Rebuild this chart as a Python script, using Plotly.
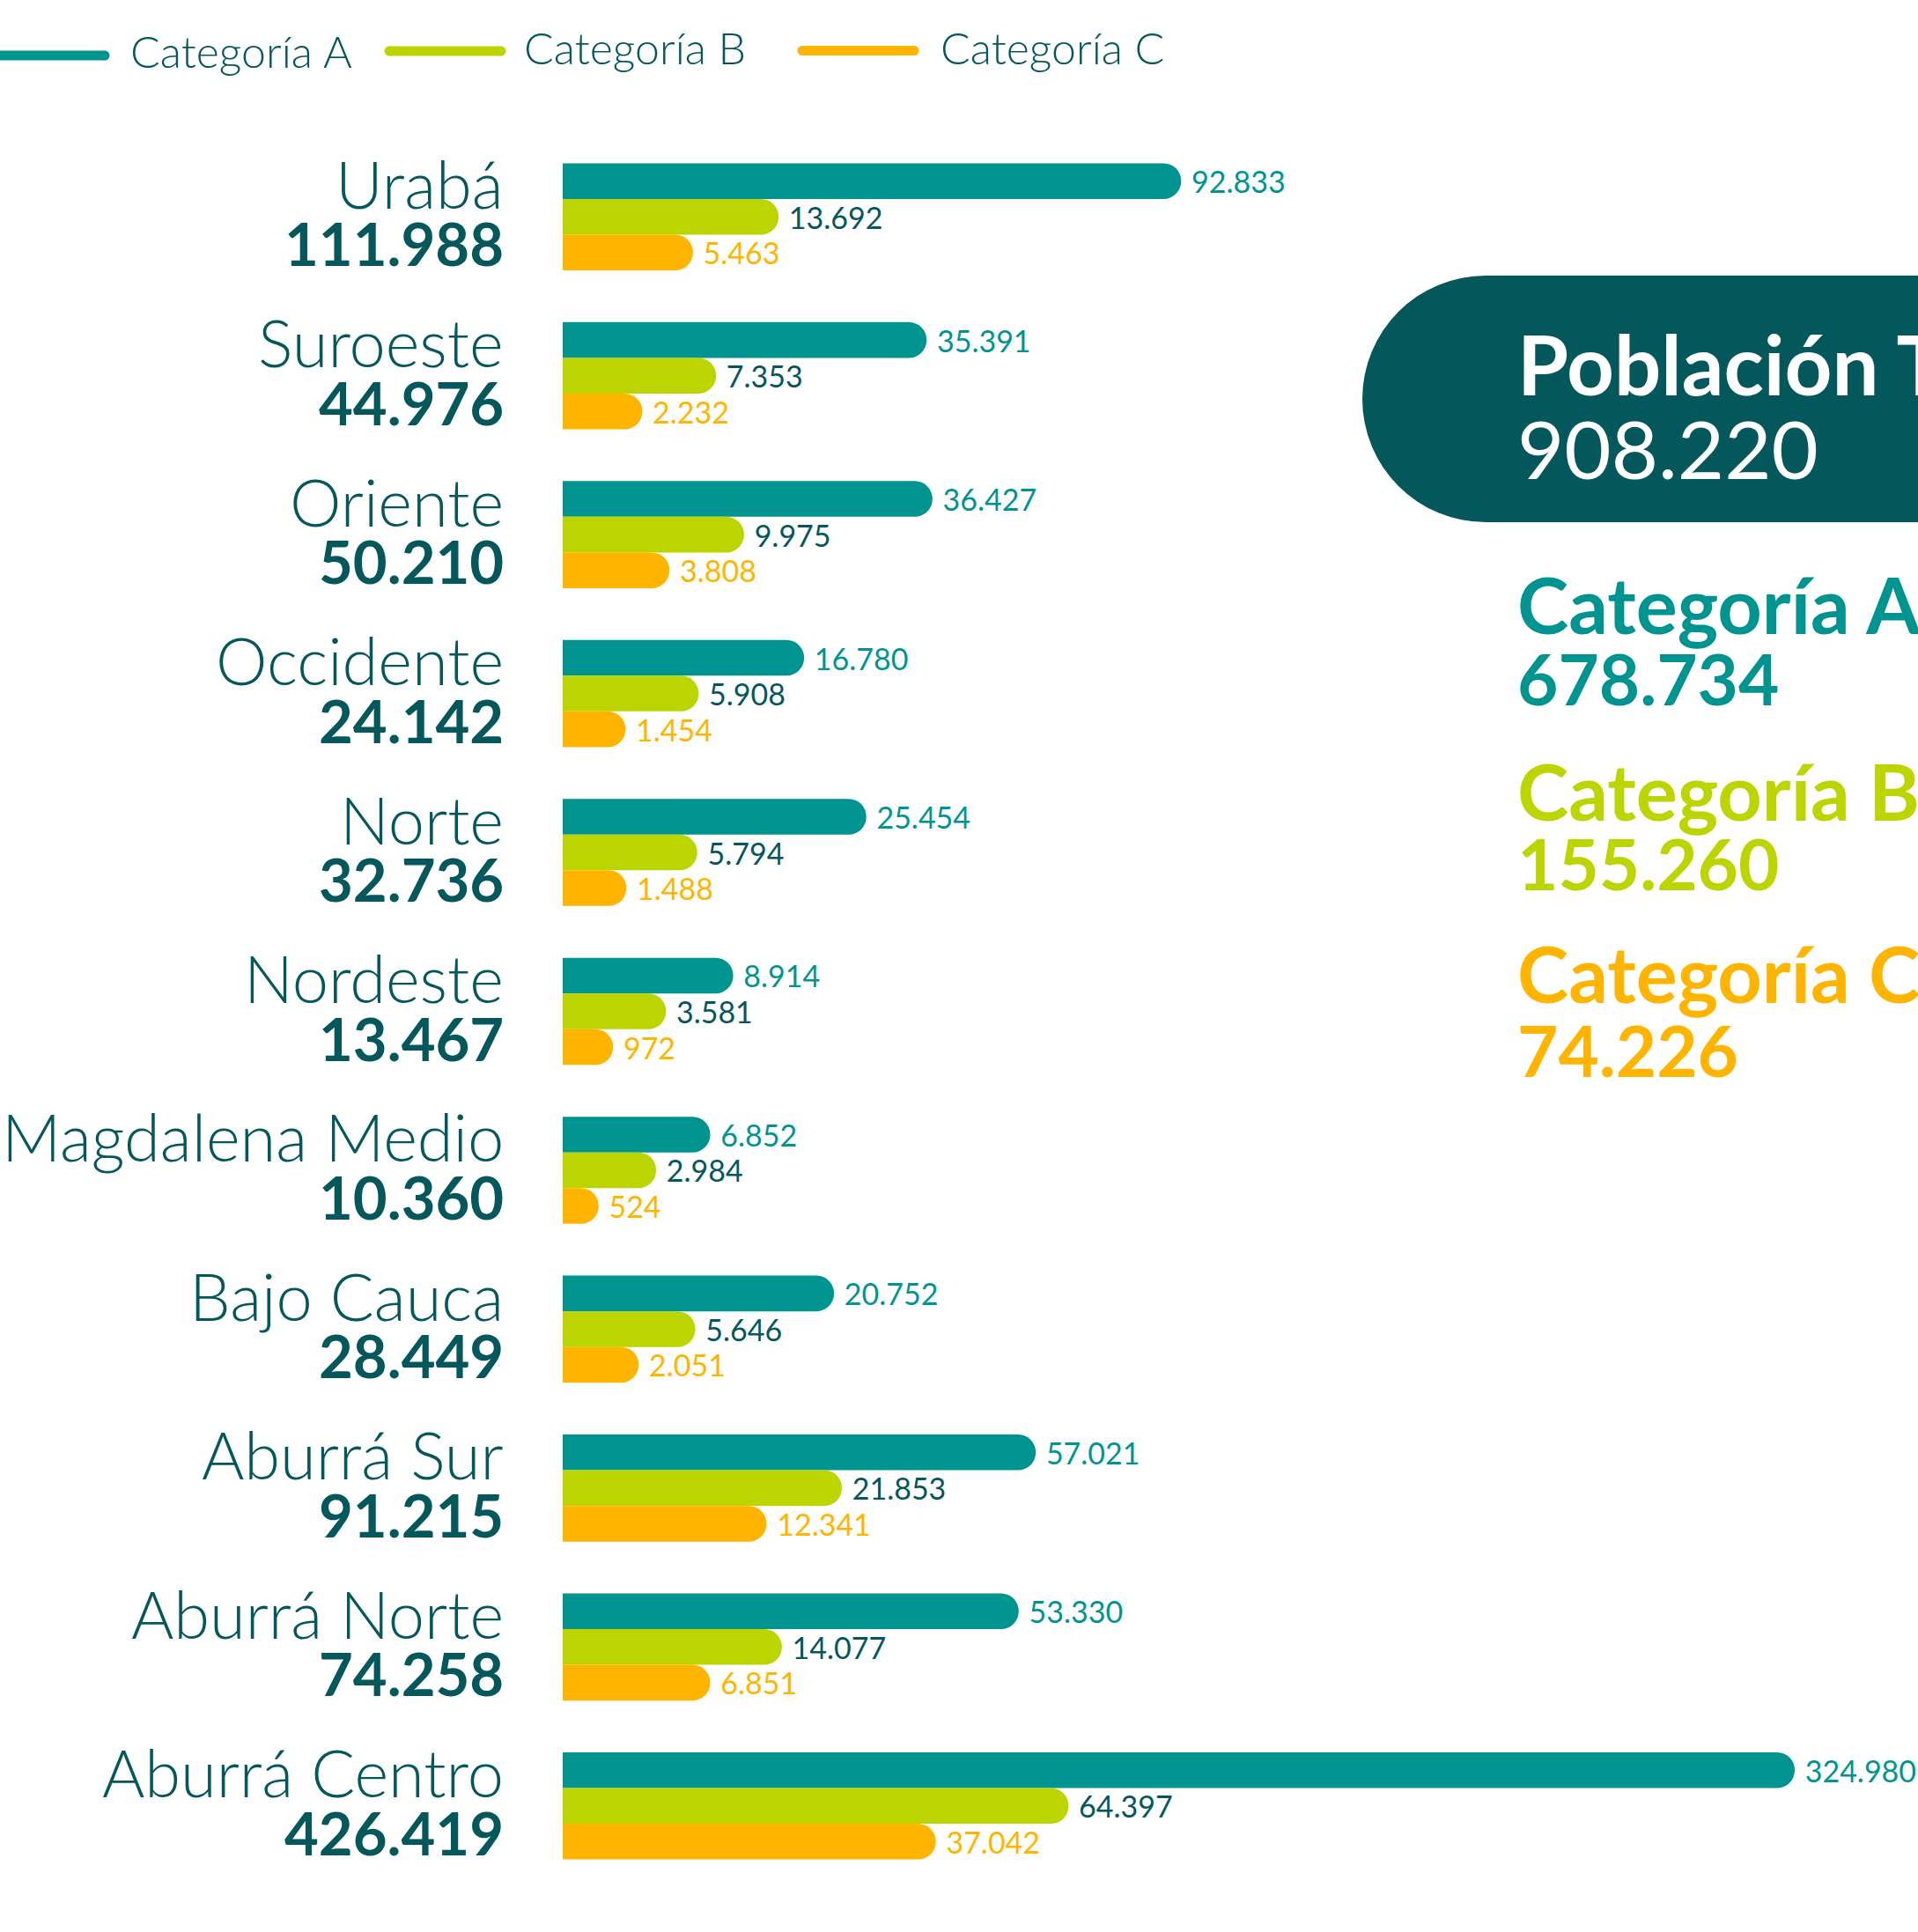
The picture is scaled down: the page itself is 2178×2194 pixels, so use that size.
import plotly.graph_objects as go

# ---------------- data ----------------
regions = ["Urabá", "Suroeste", "Oriente", "Occidente", "Norte", "Nordeste",
           "Magdalena Medio", "Bajo Cauca", "Aburrá Sur", "Aburrá Norte", "Aburrá Centro"]
cat_a = [92833, 35391, 36427, 16780, 25454, 8914, 6852, 20752, 57021, 53330, 324980]
cat_b = [13692, 7353, 9975, 5908, 5794, 3581, 2984, 5646, 21853, 14077, 64397]
cat_c = [5463, 2232, 3808, 1454, 1488, 972, 524, 2051, 12341, 6851, 37042]
region_totals = [111988, 44976, 50210, 24142, 32736, 13467, 10360, 28449, 91215, 74258, 426419]
series_names = ["Categoría A", "Categoría B", "Categoría C"]
series_totals = [678734, 155260, 74226]
total_label = "Población Total"
grand_total = 908220

# ---------------- style ----------------
W, H = 2178, 2194
PL, PR, PT, PB = 639, 2178, 156, 2141
LONGEST_BAR_PX = 1399          # on-screen length of the longest bar
POWER = 0.55                   # the infographic uses a compressed (power) length scale
DARK = "#04585B"
COLORS = ["#009490", "#BCD500", "#FFB500"]
LABEL_COLORS = ["#009490", DARK, "#FFB500"]
FONT = "Lato"


def fx(x):
    return (x - PL) / (PR - PL)


def fy(y):
    return (PB - y) / (PB - PT)


def fmt(v):
    return f"{v:,}".replace(",", ".")


vmax = max(cat_a + cat_b + cat_c)
xmax = vmax ** POWER * (PR - PL) / LONGEST_BAR_PX

fig = go.Figure()
for name, vals, col, tcol in zip(series_names, [cat_a, cat_b, cat_c], COLORS, LABEL_COLORS):
    fig.add_trace(go.Bar(
        y=regions,
        x=[v ** POWER for v in vals],
        customdata=vals,
        orientation="h",
        name=name,
        marker=dict(color=col, cornerradius=20, line=dict(width=0)),
        texttemplate="\u00a0%{customdata:,}",
        textposition="outside",
        textfont=dict(family=FONT, size=34, color=tcol),
        cliponaxis=False,
        constraintext="none",
        showlegend=False,
        hovertemplate="%{y}: %{customdata:,}<extra>" + name + "</extra>",
    ))

annotations = []
# region names and totals
for reg, tot in zip(regions, region_totals):
    annotations.append(dict(x=fx(574), xref="paper", y=reg, yref="y", yshift=38,
                            xanchor="right", yanchor="middle", text=reg, showarrow=False,
                            font=dict(family=FONT, size=74, color=DARK, weight=300)))
    annotations.append(dict(x=fx(574), xref="paper", y=reg, yref="y", yshift=-30,
                            xanchor="right", yanchor="middle", text=f"<b>{fmt(tot)}</b>",
                            showarrow=False,
                            font=dict(family=FONT, size=67, color=DARK, weight=800)))

# right panel
panel = [(f"<b>{total_label}</b>", 412, "white", 94),
         (fmt(grand_total), 508, "white", 92)]
centers = [(686, 770), (898, 980), (1105, 1192)]
for (n, t, c, (yc1, yc2)) in zip(series_names, series_totals, COLORS, centers):
    panel.append((f"<b>{n}</b>", yc1, c, 88))
    panel.append((f"<b>{fmt(t)}</b>", yc2, c, 80))
for text, yc, col, size in panel:
    annotations.append(dict(x=fx(1721), xref="paper", y=fy(yc), yref="paper",
                            xanchor="left", yanchor="middle", text=text, showarrow=False,
                            font=dict(family=FONT, size=size, color=col)))

# legend (rounded line keys)
legend_items = [(-8, 119, 63, 146, 58), (442, 569, 58, 593, 54), (911, 1038, 57.5, 1066, 54)]
shapes = []
LW = 11
for name, col, (x0, x1, ly, tx, ty) in zip(series_names, COLORS, legend_items):
    shapes.append(dict(type="line", xref="paper", yref="paper", x0=fx(x0), x1=fx(x1),
                       y0=fy(ly), y1=fy(ly), line=dict(color=col, width=LW)))
    for xe in (x0, x1):
        shapes.append(dict(type="circle", xref="paper", yref="paper",
                           x0=fx(xe - LW / 2), x1=fx(xe + LW / 2),
                           y0=fy(ly + LW / 2), y1=fy(ly - LW / 2),
                           fillcolor=col, line=dict(width=0)))
    annotations.append(dict(x=fx(tx), xref="paper", y=fy(ty), yref="paper",
                            xanchor="left", yanchor="middle", text=name, showarrow=False,
                            font=dict(family=FONT, size=50, color=DARK, weight=300)))

# pill background
shapes.append(dict(type="circle", xref="paper", yref="paper", x0=fx(1547), x1=fx(1827),
                   y0=fy(593), y1=fy(313), fillcolor=DARK, line=dict(width=0), layer="below"))
shapes.append(dict(type="rect", xref="paper", yref="paper", x0=fx(1687), x1=fx(2200),
                   y0=fy(593), y1=fy(313), fillcolor=DARK, line=dict(width=0), layer="below"))

fig.update_layout(
    width=W, height=H,
    margin=dict(l=PL, r=W - PR, t=PT, b=H - PB, pad=0),
    paper_bgcolor="white", plot_bgcolor="white",
    barmode="group", bargap=0.326, bargroupgap=0,
    separators=",.",
    xaxis=dict(range=[0, xmax], visible=False),
    yaxis=dict(categoryorder="array", categoryarray=regions, autorange="reversed",
               visible=False),
    annotations=annotations,
    shapes=shapes,
    font=dict(family=FONT, color=DARK),
)

fig.write_html("out.html", config={"displayModeBar": False},
               post_script="document.body.style.margin='0px';document.body.style.overflow='hidden';")
